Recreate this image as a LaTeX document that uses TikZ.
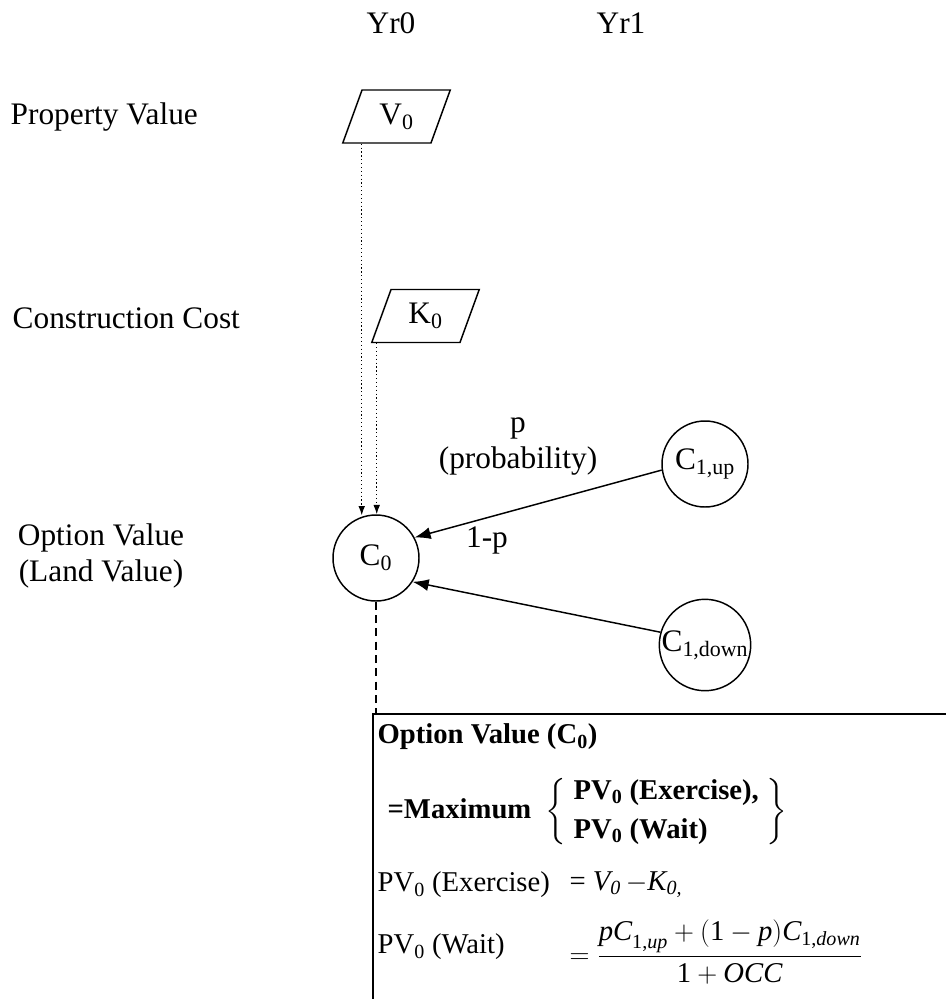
\documentclass[tikz,border=0pt]{standalone}
\usepackage{fontspec}
\setmainfont{Liberation Serif}
\usepackage{amsmath}
\usetikzlibrary{shapes.geometric,arrows.meta,calc}
\newcommand\ital[1]{\text{\itshape #1}}
\tikzset{
  state/.style={draw,circle,line width=1.1pt,minimum size=64.5pt,inner sep=0pt},
  input/.style={draw,trapezium,trapezium left angle=70,trapezium right angle=110,
    line width=1.1pt,minimum height=39.75pt,minimum width=76pt,inner sep=1pt},
  feed/.style={dotted,line width=0.9pt,-{Latex[length=7pt,width=5pt]}},
  move/.style={line width=1.1pt,-{Latex[length=12pt,width=9pt]}},
  boxtext/.style={anchor=west,inner sep=1pt,font=\fontsize{21.5}{25}\selectfont},
}
\begin{document}
\begin{tikzpicture}[x=0.75pt,y=-0.75pt,font=\fontsize{23.5}{27}\selectfont]
        \useasboundingbox (0,0) rectangle (946,999);
        % column heads and row labels
        \node (yr0) at (391,23) {Yr0};
        \node (yr1) at (621,23) {Yr1};
        \node[anchor=west] (propval) at (6,117) {Property Value};
        \node[anchor=west] (conscost) at (8,318) {Construction Cost};
        \node[align=center] (optval) at (101,556) {Option Value\\ (Land Value)};
        % inputs
        \node[input] (V0) at (396.5,116.5) {V\textsubscript{0}};
        \node[input] (K0) at (425.5,316) {K\textsubscript{0}};
        % option values
        \node[state] (C0) at (376,558) {C\textsubscript{0}};
        \node[state] (Cup) at (705,464) {C\textsubscript{1,up}};
        \node[state] (Cdown) at (705,645) {C\textsubscript{1,down}};
        \coordinate (vfoot) at ($(V0.bottom left corner)+(20,0)$);
        \coordinate (kfoot) at ($(K0.bottom left corner)+(6,0)$);
        \draw[feed] (vfoot) -- (vfoot |- C0.103);
        \draw[feed] (kfoot) -- (kfoot |- C0.87);
        \draw[move] (Cup.188) -- (C0.28);
        \draw[move] (Cdown.164) -- (C0.-33);
        \node[align=center] (pup) at (518,446) {p\\(probability)};
        \node (pdown) at (487,540) {1-p};
        % formula box
        \coordinate (boxtop) at (376,714);
        \draw[dashed,dash pattern=on 6pt off 4pt,line width=1pt] (C0.south) -- (boxtop);
        \draw[line width=1.1pt] (373,999) |- (946,714);
        \node[boxtext] (boxtitle) at (376,737) {\textbf{Option Value (C\textsubscript{0})}};
        \node[boxtext] (maxline) at (386,812) {\textbf{=Maximum}\ \
          $\left\{\begin{tabular}{@{\ }l@{\hspace{6pt}}}
            \textbf{PV\textsubscript{0} (Exercise),}\\[4pt]
            \textbf{PV\textsubscript{0} (Wait)}
          \end{tabular}\right\}$};
        \node[boxtext] (exline) at (376,885) {PV\textsubscript{0} (Exercise)};
        \node[boxtext] (exeq) at (568,885) {= \textit{V\textsubscript{0}}\,$-$\textit{K\textsubscript{0,}}};
        \node[boxtext] (waitline) at (376,947) {PV\textsubscript{0} (Wait)};
        \node[boxtext] (waiteq) at (568,952) {$=\displaystyle\frac{\ital{pC}_{\text{1,\itshape up}}+(\text{1}-\ital{p})\ital{C}_{\text{1,\itshape down}}}{\text{1}+\ital{OCC}}$};
\end{tikzpicture}
\end{document}
